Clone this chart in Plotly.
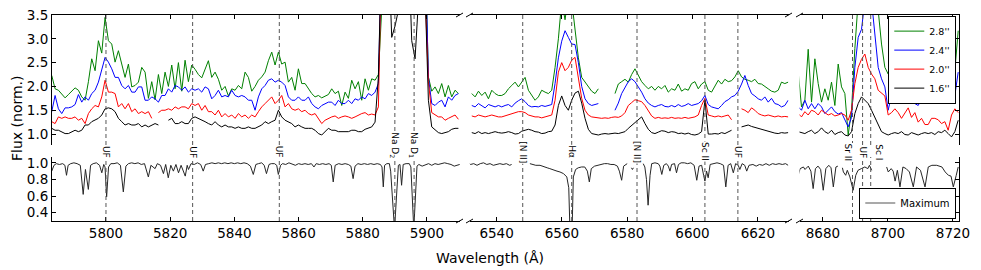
import numpy as np
import plotly.graph_objects as go

# ---------------- data ----------------
# Panel 1 (Na D region), upper spectra sampled on a regular grid
wl_p1 = np.linspace(5783.1, 5909.8, 123)
p1_28 = [2.23,1.95,1.92,1.83,1.76,1.83,1.90,1.97,1.92,1.78,
         1.71,2.10,2.58,2.33,2.96,2.70,3.45,2.96,2.89,2.51,
         2.75,2.47,2.19,2.47,1.99,2.02,2.09,2.40,2.30,1.75,
         2.10,1.72,2.25,1.85,2.30,2.00,2.45,1.95,2.50,1.90,
         2.55,2.10,2.45,2.36,2.25,2.18,2.35,2.54,2.19,2.30,
         2.15,1.92,2.00,1.80,1.95,1.92,2.02,1.95,2.30,2.19,
         1.90,2.00,2.13,2.20,2.30,2.54,2.72,2.45,2.72,2.47,
         2.51,2.09,2.19,1.92,2.37,2.06,2.06,1.95,1.85,1.78,
         1.81,1.76,1.80,1.83,
         1.95,1.85,1.90,1.60,1.88,1.75,2.13,1.95,2.10,1.71,
         2.16,1.92,2.16,2.13,2.25,
         5,5,5,5,5,5,5,5,5,5,5,5,5,5,
         2.20,1.90,1.99,1.85,2.06,1.78,2.02,1.78,1.92,1.85]
p1_24 = [1.47,1.81,1.53,1.43,1.55,1.55,1.57,1.62,1.83,1.67,
         1.78,1.71,1.85,1.92,2.09,2.33,2.61,2.51,2.37,2.19,
         2.19,2.02,1.95,2.02,1.88,1.88,1.99,1.99,1.71,1.71,
         1.78,1.74,1.67,1.81,1.81,1.95,1.88,2.02,1.99,1.92,
         1.99,1.88,1.95,1.92,1.95,1.88,1.99,1.95,1.74,1.81,
         1.92,1.78,1.81,1.78,1.92,1.81,1.78,1.81,1.78,1.71,
         1.71,1.50,1.78,1.95,2.02,2.13,2.16,2.09,2.13,2.09,
         2.02,1.78,1.71,1.71,1.78,1.71,1.71,1.78,1.64,1.57,
         1.53,1.60,1.64,1.67,
         1.67,1.60,1.71,1.64,1.64,1.71,1.64,1.74,1.71,1.78,
         1.74,1.85,1.81,1.88,2.06,
         5,5,5,5,5,5,5,5,5,5,5,5,5,5,
         2.20,1.64,1.60,1.67,1.71,1.57,1.78,1.71,1.81,1.85]
p1_20 = [1.26,1.22,1.36,1.33,1.36,1.33,1.33,1.36,1.29,1.33,
         1.22,1.43,1.53,1.60,1.57,1.78,2.13,1.88,1.88,1.85,
         1.57,1.64,1.53,1.64,1.47,1.53,1.43,1.47,1.43,1.47,
         1.33,None,1.45,1.50,1.50,1.53,1.50,1.57,1.53,1.57,
         1.57,1.53,1.64,1.60,1.64,1.50,1.60,1.47,1.47,1.40,
         1.50,1.36,1.43,1.36,1.40,1.33,1.43,1.36,1.40,1.33,
         1.40,1.36,1.47,1.57,1.64,1.71,1.78,1.64,1.71,1.81,
         1.57,1.64,1.53,1.50,1.53,1.47,1.50,1.43,1.40,1.43,
         1.33,1.22,1.29,1.33,
         1.36,1.38,1.33,1.36,1.38,1.36,1.33,1.36,1.40,1.43,
         1.45,1.40,1.42,1.40,1.57,
         5,5,5,5,5,5,5,5,5,5,5,5,5,4.0,
         2.10,1.45,1.40,1.36,1.36,1.29,1.33,1.36,1.40,1.31]
p1_16 = [1.12,1.08,1.08,1.05,1.01,1.01,1.05,1.08,1.05,1.08,
         1.19,1.19,1.26,1.29,1.33,1.40,1.53,1.55,1.53,1.47,
         1.33,1.26,1.19,1.22,1.19,1.19,1.22,1.15,1.19,1.15,
         1.19,1.22,1.19,None,None,1.29,1.33,1.22,1.22,1.26,
         1.22,1.22,1.33,1.36,1.33,1.29,1.26,1.22,1.19,1.26,
         1.19,1.15,1.19,1.15,1.15,1.12,1.15,1.12,1.12,1.15,
         1.12,1.12,1.15,1.19,1.26,1.22,1.26,1.29,1.50,1.36,
         1.29,1.26,1.22,1.15,1.19,1.15,1.12,1.12,1.12,1.08,
         1.01,0.98,1.05,1.12,
         1.08,1.08,1.05,1.05,1.05,1.05,1.08,1.08,1.05,1.05,
         1.10,1.12,1.15,1.25,2.20,
         5,5,5,3.03,3.27,3.6,5,5,5,2.96,2.58,5,5,4.0,
         1.71,1.15,1.08,1.03,1.01,1.03,1.05,1.10,1.12,1.12]

# Panel 2 (H-alpha region)
wl_p2 = np.linspace(6532.4, 6629.3, 96)
p2_28 = [1.85,1.78,1.90,1.81,1.88,1.74,1.92,1.85,1.81,
         1.81,1.85,1.95,2.02,2.09,1.99,2.10,2.19,1.92,1.80,
         1.71,1.78,1.92,1.88,1.85,1.92,2.40,3.00,3.80,3.40,
         3.90,3.80,3.20,2.60,2.19,2.10,2.00,1.90,1.85,1.95,
         None,None,None,None,1.85,2.05,2.10,2.15,2.09,2.25,
         2.37,2.25,2.10,2.02,1.95,2.00,1.92,2.00,1.95,2.02,
         1.88,1.95,1.92,2.05,1.90,1.95,1.92,2.06,2.10,1.95,
         2.05,2.10,1.92,1.88,2.02,2.13,2.05,2.15,2.10,2.12,
         2.20,2.33,2.20,2.15,2.13,2.10,2.15,2.06,2.05,1.99,
         1.95,1.90,1.88,1.92,2.09,2.06,2.09]
p2_24 = [1.60,1.57,1.64,1.60,1.55,1.62,1.60,1.57,1.60,
         1.57,1.60,1.62,1.57,1.65,1.70,1.74,1.68,1.60,1.57,
         1.58,1.57,1.60,1.58,1.60,1.62,2.06,2.60,2.95,3.17,
         3.03,2.89,2.88,2.50,2.00,1.74,1.64,1.60,1.62,1.64,
         None,None,None,None,1.50,1.65,1.85,1.98,2.10,2.16,
         2.10,1.99,1.88,1.74,1.65,1.60,1.57,1.60,1.62,1.58,
         1.57,1.60,1.57,1.62,1.58,1.60,1.64,1.60,1.62,1.64,
         1.70,1.81,1.62,1.57,1.55,1.53,1.60,1.68,1.72,1.78,
         1.81,1.90,2.05,2.23,2.02,1.85,1.80,1.74,1.71,1.78,
         1.67,1.75,1.64,1.62,1.57,1.60,1.71]
p2_20 = [1.38,1.36,1.40,1.38,1.36,1.38,1.40,1.38,1.36,
         1.36,1.38,1.40,1.43,1.45,1.47,1.47,1.45,1.40,1.38,
         1.36,1.36,1.34,1.36,1.38,1.40,1.71,2.30,2.50,2.33,
         2.40,2.55,2.61,2.20,1.75,1.50,1.40,1.36,1.35,1.33,
         1.33,1.34,1.33,1.35,1.36,1.35,1.38,1.45,1.60,1.66,
         1.72,1.70,1.68,1.60,1.50,1.38,1.33,1.35,1.33,1.34,
         1.33,1.35,1.33,1.34,1.33,1.35,1.33,1.34,1.36,1.40,
         1.60,1.75,1.40,1.38,1.36,1.38,1.36,1.38,1.40,1.30,
         None,None,1.53,1.50,1.45,1.55,1.50,1.43,1.40,1.38,
         1.40,1.38,1.36,1.38,1.36,1.37,1.36]
p2_16 = [1.03,1.01,1.05,1.01,1.03,1.01,1.03,1.05,1.03,
         1.02,1.03,1.05,1.03,1.00,1.01,1.06,1.08,1.10,1.08,
         1.05,1.04,1.01,1.02,1.05,1.06,1.19,1.60,1.80,1.60,
         1.50,1.71,1.86,1.90,1.65,1.33,1.10,1.01,0.99,0.98,
         1.00,1.01,1.00,1.01,1.02,1.01,1.03,1.05,1.12,1.18,
         1.22,1.30,1.36,1.22,1.10,1.03,1.01,1.04,1.07,1.06,
         1.03,1.05,1.04,1.01,1.02,1.00,1.02,0.99,0.98,1.00,
         1.05,1.71,1.00,1.00,1.01,1.00,1.03,1.01,1.04,1.08,
         None,None,1.15,1.17,1.19,1.16,1.14,1.12,1.10,1.08,
         1.05,1.04,1.02,1.01,1.03,1.02,1.03]

# Panel 3 (Ca triplet region)
wl_p3 = np.linspace(8672.4, 8721.6, 49)
p3_28 = [2.30,1.57,1.71,2.78,1.67,2.58,2.06,1.67,1.95,1.71,
         2.09,1.60,2.47,1.99,1.85,0.98,1.50,2.80,3.80,4.00,
         4.20,4.00,3.90,3.80,3.60,2.89,2.40,2.26,2.47,2.19,
         2.13,1.85,2.06,2.13,1.92,2.33,2.30,2.19,2.19,2.40,
         2.13,2.00,2.06,2.09,1.81,1.92,2.40,2.33,3.17]
p3_24 = [1.57,1.50,1.71,1.53,1.64,1.53,1.64,1.57,1.43,1.50,
         1.57,1.47,1.42,1.45,1.30,1.15,1.35,2.40,3.03,3.20,
         3.80,3.90,3.80,3.10,2.40,2.16,1.99,1.50,1.82,1.74,
         1.78,1.78,1.74,1.78,1.71,1.64,1.60,1.74,1.78,1.71,
         1.67,1.85,1.92,1.78,1.71,1.78,1.71,1.81,2.30]
p3_20 = [1.43,1.36,1.47,1.40,1.50,1.47,1.40,1.50,1.45,1.40,
         1.43,1.38,1.40,1.43,1.40,1.29,1.50,2.06,2.40,2.57,
         2.68,2.40,2.26,2.16,1.92,1.85,1.80,1.40,1.45,1.53,
         1.45,1.33,1.43,1.55,1.35,1.45,1.25,1.33,1.20,1.20,
         1.33,1.33,1.30,1.22,1.26,1.08,1.40,1.53,1.45]
p3_16 = [1.05,1.03,1.01,1.05,1.08,1.01,1.05,1.13,1.05,1.01,
         1.08,0.99,1.03,1.05,0.98,0.96,1.05,1.43,1.64,1.78,
         1.71,1.64,1.50,1.36,1.19,1.05,1.01,0.98,1.01,1.03,
         1.01,1.05,0.99,0.98,1.03,1.01,0.98,1.01,1.03,1.01,
         1.03,0.99,1.05,1.03,1.08,1.01,0.94,1.05,1.29]

# "Maximum" template spectrum (lower panels)
max1_wl = [5783.1,5783.8,5784.5,5785.5,5786.5,5787.2,5787.7,5788.2,5789,5790,5791,5792,5792.9,5793.6,5794.5,5795.2,
           5796,5797,5798,5798.7,5799.3,5799.7,5800.2,5800.8,5801.5,5802.5,5803.5,5804.5,5805.4,5806.2,5807,5808,
           5809,5810,5811,5812,5813.2,5814,5815.3,5816,5817,5817.9,5818.6,5819.4,5820.2,5821,5821.8,5822.6,5823.4,
           5824.7,5825.3,5825.7,5826.5,5827.5,5828.5,5829.5,5830.3,5831,5832,5833,5834,5835,5836,5837,5838,5839,
           5840,5841,5842,5843,5844,5845,5845.9,5846.7,5847.5,5848.5,5849.3,5850,5850.8,5851.5,5852.5,5853.2,
           5853.7,5854.4,5855,5856,5857,5858,5859,5860,5861,5862,5863,5864,5864.8,5865.5,5866.5,5867.5,5868.5,
           5869.5,5870.2,5870.8,5871.4,5872.5,5873.5,5874.5,5875.5,5876.3,5877,5877.6,5878.5,5879.5,5880.5,
           5881.5,5882.5,5883.5,5884.5,5885.5,5886,5886.4,5886.8,5887.5,5888.3,5888.7,5889.9,5891.1,5891.6,
           5892.1,5892.6,5893.5,5894.5,5895.0,5895.9,5896.9,5897.5,5898.5,5899.5,5900.5,5901.5,5902.5,5903.5,
           5904.5,5905.5,5906.5,5907.5,5908.5,5909.5,5910.2]
max1_fx = [0.90,0.97,0.99,0.98,0.99,0.97,0.85,0.97,0.99,1.00,0.99,0.97,0.62,0.92,0.68,0.97,
           0.99,1.00,0.97,0.88,0.98,0.95,0.59,0.95,0.99,0.99,1.00,0.97,0.65,0.96,0.99,1.00,
           0.99,1.00,0.98,0.99,0.83,0.97,0.93,0.99,0.97,0.87,0.98,0.82,0.97,0.90,0.98,0.88,0.97,
           0.84,0.97,0.92,0.99,0.98,1.00,0.98,0.90,0.98,0.99,1.00,0.99,1.00,0.99,1.00,0.99,1.00,
           0.99,1.00,0.99,1.00,0.99,0.96,0.86,0.98,0.99,1.00,0.97,0.87,0.98,0.99,0.99,0.97,
           0.86,0.97,0.99,0.98,1.00,0.98,0.97,0.99,0.98,0.99,0.98,0.99,0.95,0.99,0.98,0.99,0.98,
           0.99,0.97,0.77,0.97,0.99,0.98,0.99,0.98,0.96,0.81,0.96,0.99,0.98,0.99,
           0.98,0.99,0.98,0.99,0.98,0.95,0.71,0.97,0.99,0.99,0.90,0.20,0.97,0.98,
           0.73,0.98,0.99,0.99,0.95,0.20,0.96,0.98,0.96,0.98,0.99,0.97,0.99,0.98,
           0.99,1.00,0.99,0.98,0.96,0.97,0.98]
max2_wl = [6531.8,6532,6533,6534,6535,6536,6537,6538,6539,6540,6541,6542,6543,6544,6544.6,None,
           6550.2,6551,6552,6553.3,6554.5,6555.5,6556.3,6557.5,6558.5,6559.4,6560.5,6561.5,6562.1,6562.5,
           6563.1,6563.5,6564.2,6565,6566,6567,6567.8,6568.4,6569,6570,6571,6572,6573,6574,6575,6576,6577,
           6577.6,6578.3,6578.9,6579.5,6580,None,6581.3,6581.6,6581.9,None,6584.9,6585.4,6585.9,6586.4,
           6587,6587.5,6588.5,6589.5,6590,6590.6,6591.2,6592,6592.6,6593.1,6593.6,6594.5,6595.1,6595.7,
           6596.5,6597.5,6598.5,6599.5,6600.5,6601.3,6602,6602.8,6603.4,6603.8,6604.3,6604.8,6605.4,6606.5,
           6607.5,6608.5,6609.5,6610.2,6610.9,6611.7,6612.5,6613.2,6614,6614.5,6615.2,6616,6616.6,6617.3,
           6618.5,6619.5,6620.5,6621.5,6622.5,6623.5,6624.5,6625.5,6626.5,6627.5,6628.5,6629.3]
max2_fx = [0.99,0.98,0.99,0.97,0.99,1.00,0.98,0.99,0.97,0.98,0.99,0.98,0.99,0.97,0.98,None,
           0.99,0.98,0.97,0.97,0.95,0.94,0.93,0.91,0.90,0.89,0.87,0.83,0.70,0.15,
           0.15,0.83,0.92,0.94,0.95,0.95,0.90,0.77,0.93,0.96,0.97,0.98,0.99,0.99,0.98,0.98,0.96,
           0.90,0.79,0.96,0.98,0.99,None,0.94,0.92,0.94,None,0.99,0.95,0.80,0.49,
           0.85,0.99,1.00,0.99,0.96,0.86,0.97,0.99,0.96,0.90,0.98,0.99,0.88,0.98,
           1.00,1.00,0.99,1.00,0.97,0.79,0.96,0.97,0.85,0.78,0.90,0.82,0.98,0.99,
           1.00,0.99,0.97,0.71,0.97,0.99,0.88,0.99,0.97,0.92,0.99,0.97,0.90,0.97,
           0.98,0.96,0.98,0.97,0.99,0.97,0.99,0.98,0.99,0.98,0.99,0.97]
max3_wl = [8672.4,8673,8674,8674.5,8675.5,8676.3,8677,8677.7,8678.5,8679.3,8680.1,8680.9,8681.8,8682.5,
           8683.2,8684,8684.6,None,8686.0,8686.3,8687,8687.5,8688.3,8689.3,8690.1,8690.8,8691.8,8692.9,
           8693.8,8694.3,8695,None,8699.6,8700.1,8701,8701.6,8702.2,8702.9,8703.7,8704.6,8705.6,8706.6,
           8707.8,8708.8,8710,8711.4,8712.4,8713.5,8715,8716.6,8717.6,8718.6,8719.4,8720.1,8721,8721.6]
max3_fx = [0.85,0.93,0.95,0.92,0.96,0.90,0.69,0.93,0.96,0.92,0.67,0.93,0.97,0.94,
           0.71,0.95,0.96,None,0.94,0.89,0.85,0.91,0.83,0.67,0.85,0.91,0.93,0.95,
           0.93,0.97,0.91,None,0.95,0.89,0.93,0.90,0.78,0.91,0.71,0.95,0.93,0.89,
           0.71,0.95,0.91,0.71,0.95,0.97,0.97,0.95,0.89,0.85,0.84,0.71,0.85,0.95]

# line identifications
line_panel = [1, 1, 1, 1, 1, 2, 2, 2, 2, 2, 3, 3, 3]
line_wl = [5800.0, 5827.0, 5854.0, 5890.0, 5896.0, 6548.0, 6563.0, 6583.0, 6603.8, 6613.9, 8689.1, 8692.2, 8694.7]
line_lab = ["UF", "UF", "UF", "Na D<sub>2</sub>", "Na D<sub>1</sub>", "[N II]", "Hα", "[N II]", "Sc II", "UF",
            "Sr II", "UF", "Sc I"]

ap_names = ["2.8''", "2.4''", "2.0''", "1.6''"]
ap_colors = ["#008000", "#0000ff", "#ff0000", "#000000"]

# ---------------- figure ----------------
W, H = 981, 270
ML, MR, MT, MB = 52, 22, 15, 49
PW, PH = W - ML - MR, H - MT - MB

def px(x):
    return (x - ML) / PW

def py(y):
    return (H - MB - y) / PH

xdom = [[0.0, px(460)], [px(469.5), px(788.5)], [px(799.5), 1.0]]
xrng = [[5783.18, 5910.3], [6531.7, 6629.4], [8672.8, 8721.85]]
xticks = [[5800, 5820, 5840, 5860, 5880, 5900], [6540, 6560, 6580, 6600, 6620], [8680, 8700, 8720]]
ytop_dom = [py(145), 1.0]
ybot_dom = [0.0, py(157)]

fig = go.Figure()
FONT = "DejaVu Sans, Liberation Sans, sans-serif"

panels = [(wl_p1, [p1_28, p1_24, p1_20, p1_16]),
          (wl_p2, [p2_28, p2_24, p2_20, p2_16]),
          (wl_p3, [p3_28, p3_24, p3_20, p3_16])]
maxes = [(max1_wl, max1_fx), (max2_wl, max2_fx), (max3_wl, max3_fx)]

for i, (wl, series) in enumerate(panels):
    xt = "x" if i == 0 else f"x{i+1}"
    yt = "y" if i == 0 else f"y{i+1}"
    for j, s in enumerate(series):
        fig.add_trace(go.Scatter(x=wl, y=s, mode="lines", name=ap_names[j],
                                 line=dict(color=ap_colors[j], width=1),
                                 xaxis=xt, yaxis=yt, showlegend=(i == 0),
                                 connectgaps=False, hoverinfo="skip"))
for i, (mw, mf) in enumerate(maxes):
    fig.add_trace(go.Scatter(x=mw, y=mf, mode="lines", name="Maximum",
                             line=dict(color="#262626", width=1),
                             xaxis=f"x{i+4}", yaxis=f"y{i+4}", showlegend=False,
                             connectgaps=False, hoverinfo="skip"))
fig.add_trace(go.Scatter(x=[None], y=[None], mode="lines", name="Maximum",
                         line=dict(color="#8c8c8c", width=1.5), xaxis="x6", yaxis="y6",
                         legend="legend2", showlegend=True))

tickfont = dict(family=FONT, size=13.5, color="black")
layout = dict(width=W, height=H, margin=dict(l=ML, r=MR, t=MT, b=MB, autoexpand=False),
              paper_bgcolor="white", plot_bgcolor="white", font=dict(family=FONT, color="black"))

for i in range(3):
    sfx = "" if i == 0 else str(i + 1)
    layout["xaxis" + sfx] = dict(domain=xdom[i], range=xrng[i], anchor="y" + sfx, side="top",
                                 showline=True, linecolor="black", linewidth=1, mirror=False,
                                 ticks="inside", ticklen=4, tickcolor="black", tickvals=xticks[i],
                                 showticklabels=False, showgrid=False, zeroline=False)
    layout[f"xaxis{i+4}"] = dict(domain=xdom[i], range=xrng[i], anchor=f"y{i+4}", side="bottom",
                                 showline=True, linecolor="black", linewidth=1,
                                 ticks="inside", ticklen=4, tickcolor="black", tickvals=xticks[i],
                                 tickfont=tickfont, showgrid=False, zeroline=False)
    ytop = dict(domain=ytop_dom, range=[0.77, 3.5], anchor="x" + sfx, showgrid=False, zeroline=False,
                tickvals=[1.0, 1.5, 2.0, 2.5, 3.0, 3.5], tickformat=".1f", tickfont=tickfont)
    ybot = dict(domain=ybot_dom, range=[0.30, 1.07], anchor=f"x{i+4}", showgrid=False, zeroline=False,
                tickvals=[0.4, 0.6, 0.8, 1.0], tickformat=".1f", tickfont=tickfont)
    for ya in (ytop, ybot):
        if i == 0:
            ya.update(showline=True, linecolor="black", linewidth=1, ticks="inside", ticklen=4,
                      tickcolor="black", showticklabels=True)
        elif i == 2:
            ya.update(side="right", showline=True, linecolor="black", linewidth=1, ticks="inside",
                      ticklen=4, tickcolor="black", showticklabels=False)
        else:
            ya.update(showline=False, ticks="", showticklabels=False)
    layout["yaxis" + sfx] = ytop
    layout[f"yaxis{i+4}"] = ybot

layout["legend"] = dict(x=0.997, xanchor="right", y=0.997, yanchor="top", bgcolor="white",
                        bordercolor="black", borderwidth=1, font=dict(family=FONT, size=9.5, color="black"),
                        itemwidth=30, traceorder="normal", tracegroupgap=0)
layout["legend2"] = dict(x=0.997, xanchor="right", y=0.012, yanchor="bottom", bgcolor="white",
                         bordercolor="black", borderwidth=1, font=dict(family=FONT, size=10, color="black"),
                         itemwidth=30)
fig.update_layout(**layout)

shapes = []
annotations = []
for p, w, lab in zip(line_panel, line_wl, line_lab):
    sfx = "" if p == 1 else str(p)
    for xr, yr in (("x" + sfx, "y" + sfx + " domain"), (f"x{p+3}", f"y{p+3} domain")):
        shapes.append(dict(type="line", xref=xr, yref=yr, x0=w, x1=w, y0=0, y1=1,
                           line=dict(color="#555555", width=1, dash="4px,3px"), layer="above"))
    ycen = py(145) if lab.startswith("Na") else py(152)
    xs = 0
    if lab == "Sr II":
        xs = -5
    elif lab == "Sc I":
        xs = 8
    annotations.append(dict(x=w, xref="x" + sfx, y=ycen, yref="paper", text=lab, textangle=90,
                            xanchor="center", yanchor="middle",
                            showarrow=False, xshift=xs, bgcolor="white", borderpad=0,
                            font=dict(family=FONT, size=9, color="black")))

for (xa, xb) in ((456, 463), (466, 473), (785, 792), (796, 803)):
    for yc in (15, 221):
        shapes.append(dict(type="line", xref="paper", yref="paper", x0=px(xa), x1=px(xb),
                           y0=py(yc + 2), y1=py(yc - 2), line=dict(color="black", width=1)))

annotations.append(dict(text="Wavelength (Å)", x=px(490), y=py(258), xref="paper", yref="paper",
                        xanchor="center", yanchor="middle",
                        showarrow=False, font=dict(family=FONT, size=14, color="black")))
annotations.append(dict(text="Flux (norm.)", x=px(17), y=py(118), xref="paper", yref="paper",
                        xanchor="center", yanchor="middle",
                        textangle=-90, showarrow=False, font=dict(family=FONT, size=14, color="black")))

fig.update_layout(shapes=shapes, annotations=annotations)
fig.write_html("out.html", config={"displayModeBar": False},
               post_script="document.body.style.margin='0px';document.body.style.overflow='hidden';")
